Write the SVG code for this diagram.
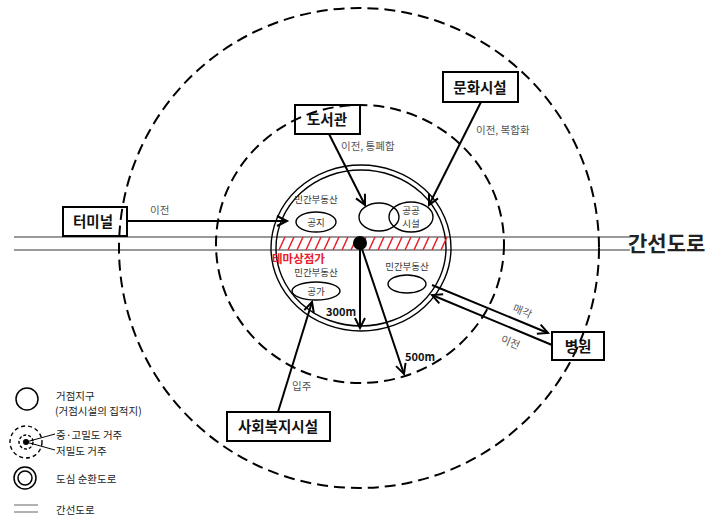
<svg xmlns="http://www.w3.org/2000/svg" width="718" height="518" viewBox="0 0 718 518">
<style>
text{font-family:"Noto Sans CJK KR","Noto Sans",sans-serif;}
.box{fill:none;stroke:#000;stroke-width:2;}
.bt{font-size:14.5px;font-weight:bold;fill:#111;text-anchor:middle;}
.dash{fill:none;stroke:#000;stroke-width:2;stroke-dasharray:11 6;}
.road{stroke:#999;stroke-width:2;fill:none;}
.ring{fill:none;stroke:#000;stroke-width:1.4;}
.ell{fill:none;stroke:#000;stroke-width:1.4;}
.con{stroke:#000;stroke-width:2;fill:none;}
.lab{font-size:10.5px;fill:#555;}
.sm{font-size:9.5px;fill:#333;text-anchor:middle;}
.lg{font-size:10.5px;fill:#222;}
</style>
<defs>
<marker id="arr" markerWidth="12" markerHeight="12" refX="10" refY="5" orient="auto" markerUnits="userSpaceOnUse" overflow="visible">
<path d="M0,0 L10,5 L0,10" fill="none" stroke="#000" stroke-width="2"/>
</marker>
</defs>
<g id="roads">
<line class="road" x1="14" y1="237" x2="630" y2="237"/>
<line class="road" x1="14" y1="250" x2="630" y2="250"/>
<text x="628" y="251" font-size="21" font-weight="bold" fill="#222">간선도로</text>
</g>
<g id="zones">
<circle class="dash" cx="359" cy="248" r="240"/>
<ellipse class="dash" cx="360" cy="244" rx="144" ry="139"/>
</g>
<g id="center">
<ellipse class="ring" cx="361" cy="248" rx="90" ry="83"/>
<ellipse class="ring" cx="361" cy="248" rx="85" ry="78"/>
<path d="M279,250 l6,-13 m3,13 l6,-13 m3,13 l6,-13 m3,13 l6,-13 m3,13 l6,-13 m3,13 l6,-13 m3,13 l6,-13 m3,13 l6,-13 m3,13 l6,-13 m3,13 l6,-13 m3,13 l6,-13 m3,13 l6,-13 m3,13 l6,-13 m3,13 l6,-13 m3,13 l6,-13 m3,13 l6,-13 m3,13 l6,-13 m3,13 l6,-13 m3,13 l6,-13" stroke="#e8202a" stroke-width="1.5" fill="none"/>
<text x="272" y="263" font-size="11.5" font-weight="bold" fill="#e8202a">테마상점가</text>
<text class="sm" x="316" y="203">민간부동산</text>
<ellipse class="ell" cx="316" cy="222" rx="20" ry="10"/>
<text class="sm" x="316" y="226">공지</text>
<ellipse class="ell" cx="379" cy="217" rx="20" ry="14"/>
<ellipse class="ell" cx="411" cy="217" rx="22" ry="15"/>
<text class="sm" x="411" y="214">공공</text>
<text class="sm" x="411" y="227">시설</text>
<text class="sm" x="316" y="276">민간부동산</text>
<ellipse class="ell" cx="316" cy="291" rx="24" ry="9"/>
<text class="sm" x="316" y="295">공가</text>
<text class="sm" x="407" y="270">민간부동산</text>
<ellipse class="ell" cx="407" cy="284" rx="19" ry="9"/>
<circle cx="360" cy="243" r="7" fill="#000"/>
</g>
<g id="terminal"><rect class="box" x="63" y="207" width="64" height="29"/><text class="bt" x="93" y="227">터미널</text></g>
<g id="library"><rect class="box" x="295" y="105" width="65" height="29"/><text class="bt" x="327" y="125">도서관</text></g>
<g id="culture"><rect class="box" x="443" y="72" width="75" height="30"/><text class="bt" x="480" y="93">문화시설</text></g>
<g id="hospital"><rect class="box" x="552" y="332" width="52" height="28"/><text class="bt" x="578" y="352">병원</text></g>
<g id="welfare"><rect class="box" x="227" y="412" width="103" height="29"/><text class="bt" x="278" y="432">사회복지시설</text></g>
<g id="connectors">
<line class="con" x1="127" y1="221" x2="287" y2="221" marker-end="url(#arr)"/>
<text class="lab" x="150" y="214">이전</text>
<line class="con" x1="329" y1="134" x2="365" y2="205" marker-end="url(#arr)"/>
<text class="lab" x="341" y="150">이전, 통폐합</text>
<line class="con" x1="481" y1="102" x2="429" y2="205" marker-end="url(#arr)"/>
<text class="lab" x="476" y="134">이전, 복합화</text>
<line class="con" x1="432" y1="285" x2="548" y2="333" marker-end="url(#arr)"/>
<line class="con" x1="552" y1="345" x2="432" y2="295" marker-end="url(#arr)"/>
<text class="lab" transform="translate(512,311) rotate(22.5)">매각</text>
<text class="lab" transform="translate(500,342) rotate(22.5)">이전</text>
<line class="con" x1="278" y1="412" x2="312" y2="302" marker-end="url(#arr)"/>
<text class="lab" x="292" y="390">입주</text>
<line class="con" x1="360" y1="243" x2="360" y2="328" marker-end="url(#arr)"/>
<text x="326" y="316" font-size="11" font-weight="bold" fill="#111">300m</text>
<line class="con" x1="360" y1="243" x2="404" y2="374" marker-end="url(#arr)"/>
<text x="405" y="361" font-size="11" font-weight="bold" fill="#111">500m</text>
</g>
<g id="legend">
<circle cx="27" cy="399" r="11" fill="none" stroke="#000" stroke-width="1.5"/>
<text class="lg" x="56" y="400">거점지구</text>
<text class="lg" x="55" y="415">(거점시설의 집적지)</text>
<circle cx="26" cy="442" r="16" fill="none" stroke="#000" stroke-width="1.4" stroke-dasharray="4 3"/>
<circle cx="26" cy="442" r="7" fill="none" stroke="#000" stroke-width="1.4" stroke-dasharray="3 2"/>
<circle cx="26" cy="442" r="3" fill="#000"/>
<line x1="26" y1="442" x2="55" y2="434" stroke="#000" stroke-width="1"/>
<line x1="26" y1="442" x2="55" y2="450" stroke="#000" stroke-width="1"/>
<text class="lg" x="56" y="439">중·고밀도 거주</text>
<text class="lg" x="56" y="455">저밀도 거주</text>
<circle cx="25" cy="478" r="11" fill="none" stroke="#000" stroke-width="1.5"/>
<circle cx="25" cy="478" r="7" fill="none" stroke="#000" stroke-width="1.5"/>
<text class="lg" x="56" y="483">도심 순환도로</text>
<line x1="14" y1="505" x2="38" y2="505" stroke="#999" stroke-width="1.5"/>
<line x1="14" y1="512" x2="38" y2="512" stroke="#999" stroke-width="1.5"/>
<text class="lg" x="56" y="514">간선도로</text>
</g>
</svg>
